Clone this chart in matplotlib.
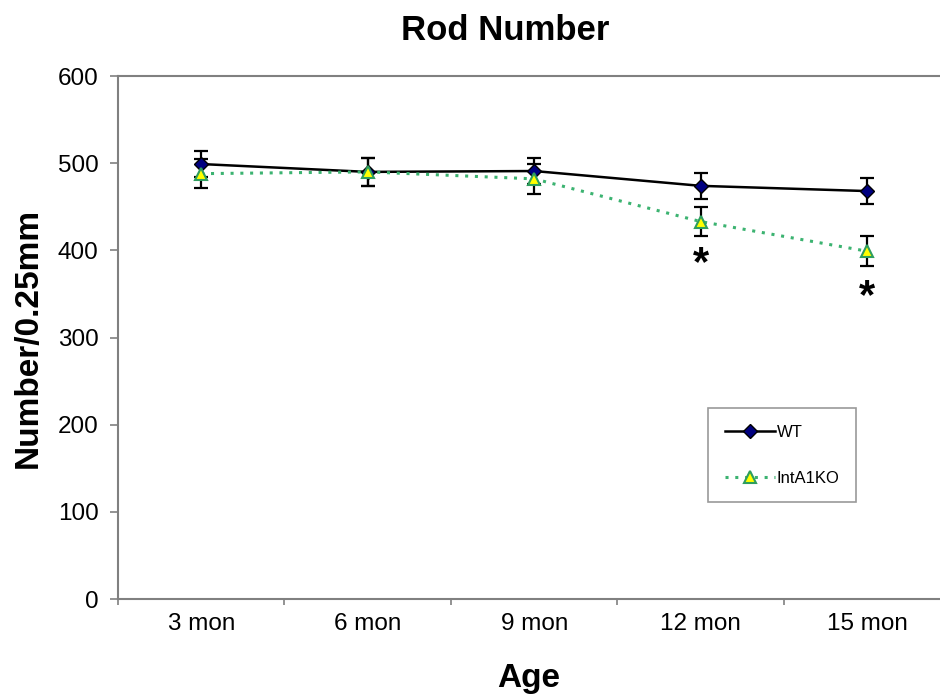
import matplotlib
matplotlib.use("Agg")
import matplotlib.pyplot as plt
import numpy as np

categories = ["3 mon", "6 mon", "9 mon", "12 mon", "15 mon"]
wt_values = [499, 490, 491, 474, 468]
wt_err = [15, 16, 15, 15, 15]
ko_values = [488, 490, 482, 433, 399]
ko_err = [17, 16, 17, 17, 17]
significant = [False, False, False, True, True]
asterisk_y = [None, None, None, 384, 346]
yticks = [0, 100, 200, 300, 400, 500, 600]

plt.rcParams['font.family'] = ['Liberation Sans', 'DejaVu Sans']

fig = plt.figure(figsize=(9.4, 6.98), dpi=100)
ax = fig.add_axes([0.1255, 0.1418, 0.8745, 0.7493])

x = np.arange(len(categories))
spine_c = '#808080'

ax.errorbar(x, wt_values, yerr=wt_err, fmt='none', ecolor='black', elinewidth=1.6,
            capsize=5, capthick=1.6, zorder=3)
ax.errorbar(x, ko_values, yerr=ko_err, fmt='none', ecolor='black', elinewidth=1.6,
            capsize=5, capthick=1.6, zorder=3)
ax.plot(x, wt_values, color='black', lw=1.8, marker='D', markersize=7,
        markerfacecolor='#000080', markeredgecolor='black', markeredgewidth=1,
        label='WT', zorder=4)
ax.plot(x, ko_values, color='#3cb371', lw=2.2, linestyle=(0, (1, 2.2)), marker='^',
        markersize=9, markerfacecolor='#ffff00', markeredgecolor='#2e9e5e',
        markeredgewidth=1.5, label='IntA1KO', zorder=5)

for i, s in enumerate(significant):
    if s:
        ax.text(x[i], asterisk_y[i], '*', ha='center', va='center', fontsize=30,
                fontweight='bold', color='black')

ax.set_yticks(yticks)
ax.set_xticks(x)
ax.set_xticklabels(categories)
ax.set_xticks(np.arange(len(categories) + 1) - 0.5, minor=True)
ax.set_xlim(-0.5, 4.437)
ax.set_ylim(0, 600)
ax.tick_params(axis='x', which='major', length=0, pad=10, labelsize=17.5)
ax.tick_params(axis='x', which='minor', length=4, width=1.2, color=spine_c, direction='out')
ax.tick_params(axis='y', length=6, width=1.2, color=spine_c, pad=8, labelsize=17.5)

for side in ['left', 'bottom', 'top']:
    ax.spines[side].set_color(spine_c)
    ax.spines[side].set_linewidth(1.5)
ax.spines['right'].set_visible(False)

ax.set_xlabel('Age', fontsize=24, fontweight='bold', labelpad=20)
ax.set_ylabel('Number/0.25mm', fontsize=24, fontweight='bold', labelpad=10)
fig.text(0.5375, 0.956, 'Rod Number', ha='center', va='center', fontsize=25, fontweight='bold')

leg = ax.legend(loc='upper left', bbox_to_anchor=(0.718, 0.365), borderaxespad=0,
                fontsize=12, frameon=True, fancybox=False, shadow=False,
                handlelength=3.0, labelspacing=1.85, borderpad=1.0, handletextpad=0.1,
                edgecolor=spine_c)
leg.get_frame().set_linewidth(1.2)

fig.savefig('out.png', dpi=100)
